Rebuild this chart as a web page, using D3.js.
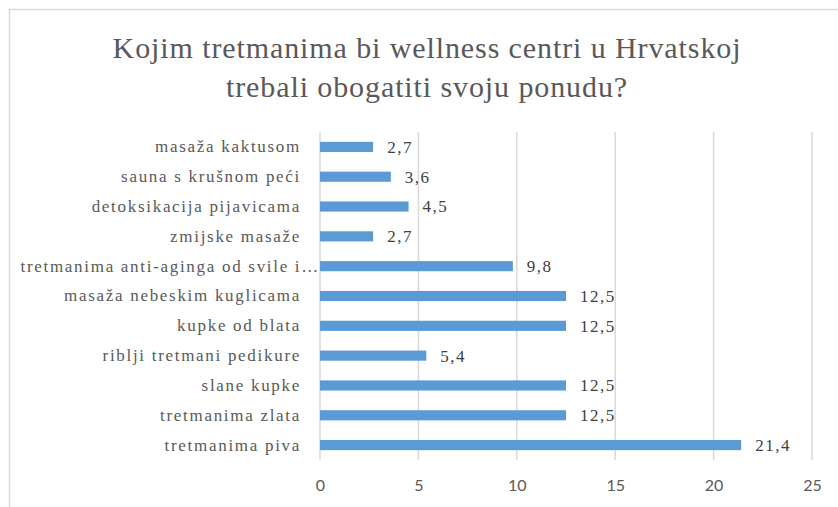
<!DOCTYPE html>
<html>
<head>
<meta charset="utf-8">
<script src="https://cdn.jsdelivr.net/npm/d3@7"></script>
<style>
  body { margin: 0; background: #fff; }
</style>
</head>
<body>
<div id="chart"></div>
<script>
const titleLines = ["Kojim tretmanima bi wellness centri u Hrvatskoj", "trebali obogatiti svoju ponudu?"]
const categories = [
  "masaža kaktusom",
  "sauna s krušnom peći",
  "detoksikacija pijavicama",
  "zmijske masaže",
  "tretmanima anti-aginga od svile i…",
  "masaža nebeskim kuglicama",
  "kupke od blata",
  "riblji tretmani pedikure",
  "slane kupke",
  "tretmanima zlata",
  "tretmanima piva"
]
const values = [2.7, 3.6, 4.5, 2.7, 9.8, 12.5, 12.5, 5.4, 12.5, 12.5, 21.4]
const xTicks = [0, 5, 10, 15, 20, 25]

const width = 838
const height = 507
const plot = { left: 320, right: 812, top: 132, bottom: 460 }
const serif = "Liberation Serif"

const svg = d3.select("#chart")
  .append("svg")
  .attr("width", width)
  .attr("height", height)
  .style("display", "block")

// chart frame (runs off the right/bottom edge like the original)
svg.append("rect")
  .attr("x", 9.5)
  .attr("y", 9.5)
  .attr("width", 850)
  .attr("height", 520)
  .attr("fill", "none")
  .attr("stroke", "#d9d9d9")
  .attr("stroke-width", 1.5)

// title
svg.append("text")
  .attr("x", 427)
  .attr("y", 58)
  .attr("text-anchor", "middle")
  .style("font-family", serif)
  .style("font-size", "30px")
  .style("letter-spacing", "0.9px")
  .style("fill", "#595959")
  .selectAll("tspan")
  .data(titleLines)
  .enter()
  .append("tspan")
  .attr("x", 427)
  .attr("dy", (d, i) => i === 0 ? 0 : 39)
  .text(d => d)

const x = d3.scaleLinear()
  .domain([0, 25])
  .range([plot.left, plot.right])

const y = d3.scaleBand()
  .domain(categories)
  .range([plot.top, plot.bottom])
  .paddingInner(0.66)
  .paddingOuter(0.33)

// gridlines
svg.append("g")
  .selectAll("line")
  .data(xTicks)
  .enter()
  .append("line")
  .attr("x1", d => x(d))
  .attr("x2", d => x(d))
  .attr("y1", plot.top)
  .attr("y2", plot.bottom)
  .attr("stroke", "#d9d9d9")
  .attr("stroke-width", 1.5)

// x axis labels
const xAxis = svg.append("g")
  .attr("transform", `translate(0,${plot.bottom})`)
  .call(d3.axisBottom(x).tickValues(xTicks).tickSize(0).tickPadding(20))
xAxis.select(".domain").remove()
xAxis.selectAll("text")
  .style("font-family", "Lato")
  .style("font-size", "16px")
  .style("fill", "#595959")

// y axis labels
const yAxis = svg.append("g")
  .attr("transform", `translate(${plot.left},0)`)
  .call(d3.axisLeft(y).tickSize(0).tickPadding(19))
yAxis.select(".domain").remove()
yAxis.selectAll("text")
  .style("font-family", serif)
  .style("font-size", "17px")
  .style("letter-spacing", "1.7px")
  .style("fill", "#595959")
  // the truncated label runs right up to the axis
  .attr("dx", d => d.endsWith("…") ? 19 : 0)

// bars
svg.append("g")
  .selectAll("rect")
  .data(values)
  .enter()
  .append("rect")
  .attr("x", x(0))
  .attr("y", (d, i) => y(categories[i]))
  .attr("width", d => x(d) - x(0))
  .attr("height", y.bandwidth())
  .attr("fill", "#5b9bd5")

// value labels
svg.append("g")
  .selectAll("text")
  .data(values)
  .enter()
  .append("text")
  .attr("x", d => x(d) + 14)
  .attr("y", (d, i) => y(categories[i]) + y.bandwidth() / 2)
  .attr("dy", "0.35em")
  .style("font-family", serif)
  .style("font-size", "17px")
  .style("letter-spacing", "1.5px")
  .style("fill", "#404040")
  .text(d => String(d).replace(".", ","))
</script>
</body>
</html>
